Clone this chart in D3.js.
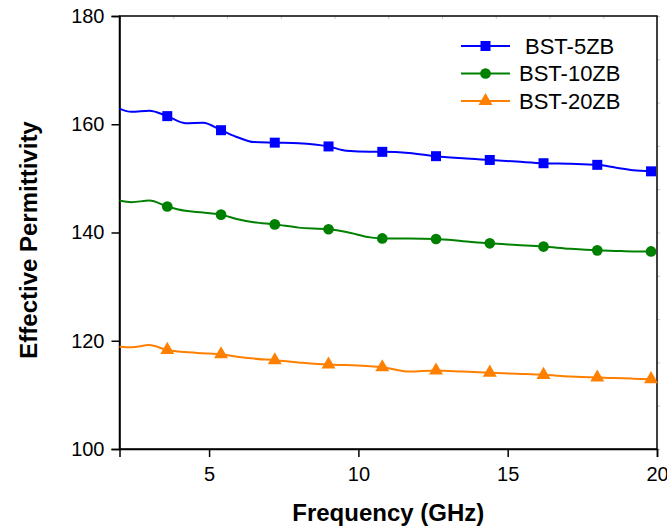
<!DOCTYPE html>
<meta charset="utf-8">
<html>
<head>
  <style>
    body { margin: 0; background: #fff; }
    svg { font-family: "Liberation Sans", Arial, sans-serif; }
  </style>
</head>
<body>
<script src="https://d3js.org/d3.v7.min.js"></script>
<script>

/* data */
var freq = [2.0, 2.4, 3.0, 3.6, 4.2, 4.8, 5.4, 6.0, 6.5, 7.2, 8.0, 9.0, 9.6, 10.4, 10.8,
            11.7, 12.6, 13.5, 14.4, 15.3, 16.2, 17.1, 18.0, 18.6, 19.2, 19.8];
var bst5 = [162.9, 162.3, 162.5, 161.5, 160.2, 160.3, 158.9, 157.5, 156.7, 156.6, 156.5, 155.9, 155.1, 154.9, 154.9,
            154.7, 154.1, 153.7, 153.4, 153.1, 152.8, 152.7, 152.5, 152.0, 151.5, 151.3];
var bst10 = [145.9, 145.6, 145.9, 144.8, 144.0, 143.7, 143.3, 142.4, 141.9, 141.5, 140.9, 140.6, 140.1, 139.1, 138.9,
             138.9, 138.8, 138.4, 138.0, 137.7, 137.4, 137.0, 136.7, 136.6, 136.5, 136.5];
var bst20 = [118.9, 118.8, 119.2, 118.3, 117.9, 117.7, 117.5, 117.0, 116.7, 116.4, 116.0, 115.6, 115.5, 115.3, 115.1,
             114.3, 114.5, 114.3, 114.1, 113.9, 113.7, 113.4, 113.2, 113.1, 113.0, 112.9];
var markerFreqs = [3.6, 5.4, 7.2, 9.0, 10.8, 12.6, 14.4, 16.2, 18.0, 19.8];
var seriesNames = ["BST-5ZB", "BST-10ZB", "BST-20ZB"];
var xTicks = [5, 10, 15, 20];
var yTicks = [100, 120, 140, 160, 180];

var W = 667, H = 529;
var margin = {top: 16, right: 10, bottom: 80, left: 119.5};

var svg = d3.select("body").append("svg")
  .attr("width", W)
  .attr("height", H);

var x = d3.scaleLinear().domain([2, 20]).range([margin.left, W - margin.right]);
var y = d3.scaleLinear().domain([100, 180]).range([H - margin.bottom, margin.top]);

var colors = ["#0000ff", "#008000", "#ff8000"];
var symbols = [d3.symbolSquare, d3.symbolCircle, d3.symbolTriangle];
var symSize = [100, 90, 85];

var series = [bst5, bst10, bst20].map(function(vals, i) {
  return {
    name: seriesNames[i],
    points: freq.map(function(f, j) { return {f: f, v: vals[j]}; })
  };
});

// faint minor ticks on top and right (as in the original)
var topG = svg.append("g")
  .attr("transform", "translate(0," + y(180) + ")")
  .call(d3.axisBottom(x).tickValues(d3.range(2, 20.01, 1.8)).tickSize(3).tickFormat(""));
topG.select(".domain").remove();
topG.selectAll("line").attr("stroke", "#c8c8c8");

var rightG = svg.append("g")
  .attr("transform", "translate(" + x(20) + ",0)")
  .call(d3.axisRight(y).tickValues(d3.range(100, 180.01, 8)).tickSize(3).tickFormat(""));
rightG.select(".domain").remove();
rightG.selectAll("line").attr("stroke", "#c8c8c8");

// frame
svg.append("rect")
  .attr("x", x(2)).attr("y", y(180))
  .attr("width", x(20) - x(2)).attr("height", y(100) - y(180))
  .attr("fill", "none").attr("stroke", "#000").attr("stroke-width", 1.5);

var xAxis = svg.append("g")
  .attr("transform", "translate(0," + y(100) + ")")
  .call(d3.axisBottom(x).tickValues(xTicks).tickSize(8).tickPadding(10).tickFormat(d3.format("d")));
xAxis.select(".domain").attr("stroke-width", 1.5);
xAxis.selectAll("line").attr("stroke-width", 1.5);
xAxis.selectAll("text").attr("font-size", 20).attr("fill", "#000")
  .attr("font-family", "Liberation Sans, Arial, sans-serif");

var yAxis = svg.append("g")
  .attr("transform", "translate(" + x(2) + ",0)")
  .call(d3.axisLeft(y).tickValues(yTicks).tickSize(8).tickPadding(7));
yAxis.select(".domain").attr("stroke-width", 1.5);
yAxis.selectAll("line").attr("stroke-width", 1.5);
yAxis.selectAll("text").attr("font-size", 20).attr("fill", "#000")
  .attr("font-family", "Liberation Sans, Arial, sans-serif");

// axis titles
svg.append("text")
  .text("Frequency (GHz)")
  .attr("x", (x(2) + x(20)) / 2)
  .attr("y", 521)
  .attr("text-anchor", "middle")
  .attr("font-size", 24)
  .attr("font-weight", "bold");

svg.append("text")
  .text("Effective Permittivity")
  .attr("transform", "translate(37," + 240 + ") rotate(-90)")
  .attr("text-anchor", "middle")
  .attr("font-size", 24)
  .attr("font-weight", "bold");

var line = d3.line()
  .x(function(d) { return x(d.f); })
  .y(function(d) { return y(d.v); })
  .curve(d3.curveMonotoneX);

series.forEach(function(s, i) {
  svg.append("path")
    .datum(s.points)
    .attr("d", line)
    .attr("fill", "none")
    .attr("stroke", colors[i])
    .attr("stroke-width", 2);

  svg.selectAll(".m" + i)
    .data(s.points.filter(function(d) { return markerFreqs.indexOf(d.f) >= 0; }))
    .enter().append("path")
    .attr("class", "m" + i)
    .attr("d", d3.symbol().type(symbols[i]).size(symSize[i]))
    .attr("transform", function(d) { return "translate(" + x(d.f) + "," + y(d.v) + ")"; })
    .attr("fill", colors[i]);
});

// legend
var legend = svg.selectAll(".legend")
  .data(seriesNames)
  .enter().append("g")
  .attr("class", "legend")
  .attr("transform", function(d, i) { return "translate(0," + (46 + i * 27.5) + ")"; });

legend.append("line")
  .attr("x1", 461).attr("x2", 510)
  .attr("stroke", function(d, i) { return colors[i]; })
  .attr("stroke-width", 2);

legend.append("path")
  .attr("d", function(d, i) { return d3.symbol().type(symbols[i]).size(symSize[i])(); })
  .attr("transform", "translate(485.5,0)")
  .attr("fill", function(d, i) { return colors[i]; });

legend.append("text")
  .text(function(d) { return d; })
  .attr("x", function(d, i) { return i == 0 ? 525 : 519; })
  .attr("dy", "0.36em")
  .attr("font-size", 22);

</script>
</body>
</html>
